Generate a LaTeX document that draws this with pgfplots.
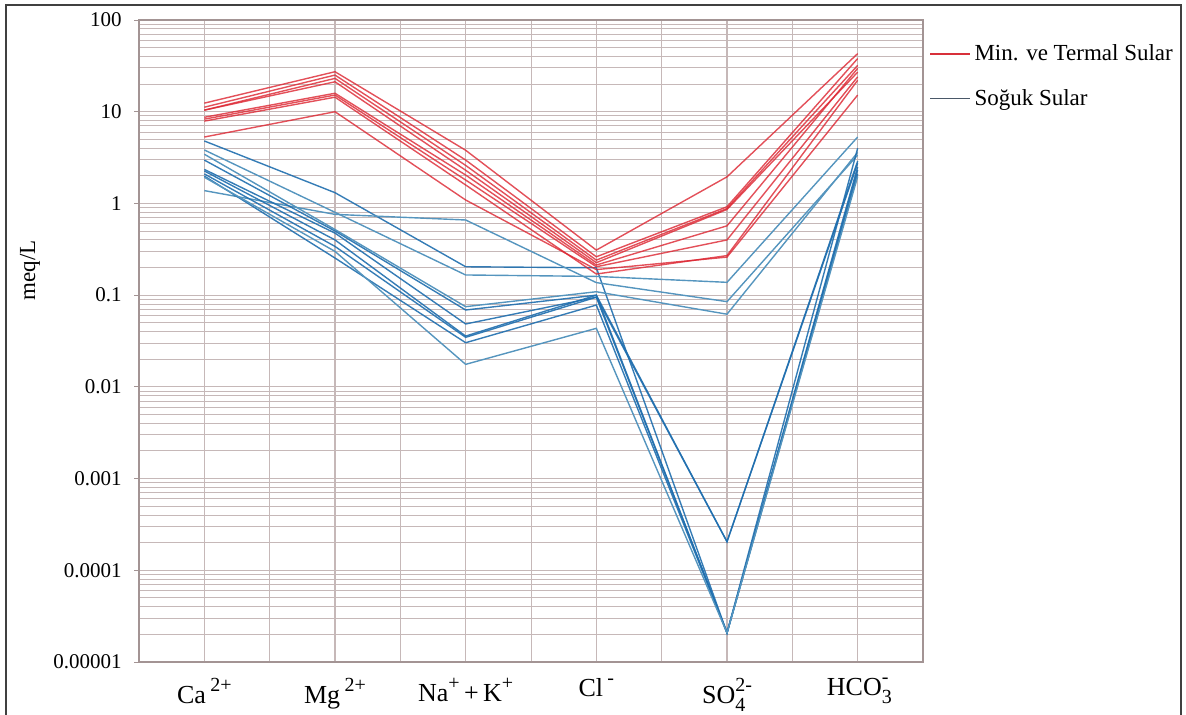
\documentclass[border=0pt]{standalone}
\usepackage{fontspec}
\setmainfont{Liberation Serif}
\usepackage{pgfplots}
\pgfplotsset{compat=1.18}

\definecolor{gridc}{HTML}{C6B8B8}
\definecolor{axisc}{HTML}{A39494}
\definecolor{termal}{HTML}{DC2430}
\definecolor{soguk}{HTML}{1F6EAE}
\definecolor{soguklt}{HTML}{5595BE}
\definecolor{legred}{HTML}{D8303A}
\definecolor{legblue}{HTML}{4A5868}
\definecolor{framec}{HTML}{404040}

% raised / stacked ion charges
\newcommand\up[1]{\raisebox{1ex}{\fontsize{10}{10}\selectfont #1}}
\newcommand\updn[2]{\makebox[0pt][l]{\raisebox{-0.65ex}{\fontsize{10}{10}\selectfont #2}}\raisebox{1ex}{\fontsize{10}{10}\selectfont #1}}

\begin{document}
\begin{tikzpicture}
\begin{axis}[
  at={(0,0)}, anchor=south west,
  scale only axis, width=392pt, height=321pt,
  xmin=0.5, xmax=6.5,
  ymode=log, ymin=1e-5, ymax=100,
  xtick={1,2,3,4,5,6},
  minor xtick={0.5,1.5,2.5,3.5,4.5,5.5,6.5},
  xticklabels={Ca\,\up{2+}, Mg\,\up{2+}, Na\up{+}\,+\,K\up{+}, Cl\,\up{-}, SO\updn{2-}{4}, HCO\updn{-}{3}},
  xticklabel style={font=\fontsize{13}{15}\selectfont, anchor=north, yshift=-2pt},
  xtick style={draw=none},
  ytick pos=left,
  ytick={1e-5,1e-4,1e-3,1e-2,1e-1,1,10,100},
  yticklabels={0.00001,0.0001,0.001,0.01,0.1,1,10,100},
  minor ytick={2e-5,3e-5,4e-5,5e-5,6e-5,7e-5,8e-5,9e-5,
               2e-4,3e-4,4e-4,5e-4,6e-4,7e-4,8e-4,9e-4,
               2e-3,3e-3,4e-3,5e-3,6e-3,7e-3,8e-3,9e-3,
               2e-2,3e-2,4e-2,5e-2,6e-2,7e-2,8e-2,9e-2,
               0.2,0.3,0.4,0.5,0.6,0.7,0.8,0.9,
               2,3,4,5,6,7,8,9,
               20,30,40,50,60,70,80,90},
  yticklabel style={font=\fontsize{10.5}{12}\selectfont, inner sep=0pt, xshift=-6pt},
  ytick style={draw=axisc, line width=0.5pt},
  tick align=outside, major tick length=2.5pt, minor tick length=0pt,
  grid=both,
  major grid style={draw=gridc, line width=0.6pt},
  minor grid style={draw=gridc, line width=0.5pt},
  axis line style={draw=axisc, line width=0.55pt},
  ylabel={meq/L},
  ylabel style={font=\fontsize{11.5}{13}\selectfont, at={(axis description cs:-0.139,0.61)}, anchor=center},
  legend style={at={(axis description cs:1.0,0.969)}, anchor=north west,
    draw=none, fill=none, font=\fontsize{11.5}{13}\selectfont,
    row sep=13pt, nodes={inner xsep=1.75pt, inner ysep=0pt}},
  legend cell align=left,
  every axis plot/.append style={line width=0.7pt, mark=none},
]
% legend
\addlegendimage{legend image code/.code={\draw[draw=legred, line width=0.8pt] (0pt,0pt) -- (20pt,0pt);}}
\addlegendentry{Min. ve Termal Sular}
\addlegendimage{legend image code/.code={\draw[draw=legblue, line width=0.7pt] (0pt,0pt) -- (20pt,0pt);}}
\addlegendentry{Soğuk Sular}

% cold waters
\addplot[soguk, opacity=0.9, forget plot] coordinates {(1,4.8) (2,1.31) (3,0.204) (4,0.199) (5,0.0000208) (6,2.31)};
\addplot[soguklt, forget plot] coordinates {(1,1.38) (2,0.76) (3,0.66) (4,0.137) (5,0.085) (6,3.37)};
\addplot[soguklt, forget plot] coordinates {(1,3.83) (2,0.80) (3,0.166) (4,0.16) (5,0.138) (6,5.3)};
\addplot[soguklt, forget plot] coordinates {(1,3.44) (2,0.52) (3,0.0749) (4,0.109) (5,0.062) (6,3.6)};
\addplot[soguk, opacity=0.9, forget plot] coordinates {(1,2.97) (2,0.50) (3,0.0689) (4,0.100) (5,0.000205) (6,2.74)};
\addplot[soguk, opacity=0.9, forget plot] coordinates {(1,2.35) (2,0.475) (3,0.0485) (4,0.095) (5,0.000205) (6,2.9)};
\addplot[soguk, opacity=0.9, forget plot] coordinates {(1,2.26) (2,0.40) (3,0.0358) (4,0.100) (5,0.0000208) (6,2.5)};
\addplot[soguk, opacity=0.9, forget plot] coordinates {(1,2.1) (2,0.34) (3,0.0347) (4,0.095) (5,0.0000208) (6,4.0)};
\addplot[soguk, opacity=0.9, forget plot] coordinates {(1,1.99) (2,0.254) (3,0.0303) (4,0.078) (5,0.0000208) (6,2.1)};
\addplot[soguklt, forget plot] coordinates {(1,1.93) (2,0.30) (3,0.0176) (4,0.0435) (5,0.0000208) (6,1.96)};

% mineral and thermal waters
\addplot[termal, opacity=0.8, forget plot] coordinates {(1,12.4) (2,27.3) (3,3.8) (4,0.31) (5,1.95) (6,43)};
\addplot[termal, opacity=0.8, forget plot] coordinates {(1,11.2) (2,25.1) (3,2.97) (4,0.262) (5,0.92) (6,38)};
\addplot[termal, opacity=0.8, forget plot] coordinates {(1,10.4) (2,23.1) (3,2.6) (4,0.241) (5,0.88) (6,32)};
\addplot[termal, opacity=0.8, forget plot] coordinates {(1,10.4) (2,21.2) (3,2.3) (4,0.226) (5,0.86) (6,27)};
\addplot[termal, opacity=0.8, forget plot] coordinates {(1,8.7) (2,15.9) (3,2.04) (4,0.213) (5,0.57) (6,29.7)};
\addplot[termal, opacity=0.8, forget plot] coordinates {(1,8.3) (2,15.2) (3,1.8) (4,0.204) (5,0.40) (6,24)};
\addplot[termal, opacity=0.8, forget plot] coordinates {(1,7.9) (2,14.4) (3,1.59) (4,0.17) (5,0.27) (6,22)};
\addplot[termal, opacity=0.8, forget plot] coordinates {(1,5.3) (2,10.0) (3,1.09) (4,0.19) (5,0.26) (6,15.2)};
\end{axis}
% figure frame
\draw[framec, line width=1pt] (-66.5pt,-40pt) -- (-66.5pt,328.5pt) -- (521pt,328.5pt) -- (521pt,-40pt);
\pgfresetboundingbox
\useasboundingbox (-69.5pt,-26pt) rectangle (523.5pt,331pt);
\end{tikzpicture}
\end{document}
